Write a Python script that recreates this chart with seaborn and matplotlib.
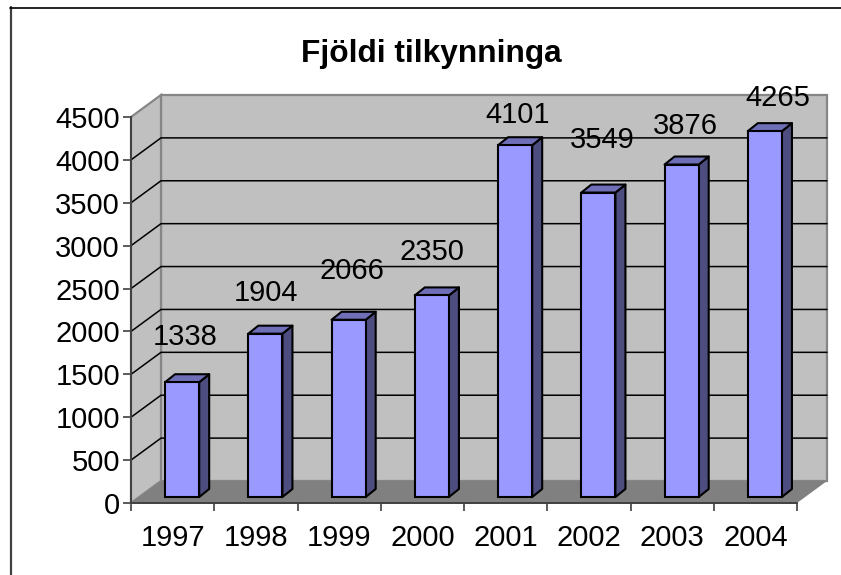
import matplotlib
matplotlib.use("Agg")
import matplotlib.pyplot as plt
from matplotlib.lines import Line2D
from matplotlib.patches import Polygon
import pandas as pd
import seaborn as sns

years = ["1997", "1998", "1999", "2000", "2001", "2002", "2003", "2004"]
counts = [1338, 1904, 2066, 2350, 4101, 3549, 3876, 4265]
y_ticks = [0, 500, 1000, 1500, 2000, 2500, 3000, 3500, 4000, 4500]
title = "Fjöldi tilkynninga"

# label offsets in pixels from the bar top, the originals sit unevenly
label_dx = [3, 1, 3, 0, 2, 4, 4, 13]
label_dy = [45, 41, 49, 43, 30, 53, 39, 33]

FRONT, SIDE, TOP = "#9999ff", "#4d4d80", "#6f6fb8"
WALL, FLOOR = "#c0c0c0", "#808080"
FONT_SIZE = 21

sns.set_theme(style="white")
plt.rcParams["font.family"] = ["Liberation Sans", "DejaVu Sans"]
plt.rcParams["text.color"] = "black"

df = pd.DataFrame({"year": years, "count": counts})

W, H = 841, 575
fig = plt.figure(figsize=(W / 100, H / 100), dpi=100)
ax = fig.add_axes([131 / W, (H - 503) / H, 666 / W, 386 / H])

sns.barplot(data=df, x="year", y="count", width=0.41, color=FRONT, saturation=1,
            edgecolor="black", linewidth=1.5, ax=ax, zorder=5)
ax.set_xlim(-0.5, 7.5)
ax.set_ylim(0, 4500)

# pixels to data units
px = 8 / 666
py = 4500 / 386
dx, dy = 30 * px, 22 * py      # depth of the walls
bdx, bdy = 10 * px, 8 * py     # depth of a bar
shift_x, shift_y = 9.5 * px, 6 * py

x0, x1 = -0.5, 7.5
ax.add_patch(Polygon([(x0 + dx, dy), (x1 + dx, dy), (x1 + dx, 4500 + dy), (x0 + dx, 4500 + dy)],
                     fc=WALL, ec="#868686", lw=1.6, clip_on=False, zorder=1))
ax.add_patch(Polygon([(x0, 0), (x0 + dx, dy), (x0 + dx, 4500 + dy), (x0, 4500)],
                     fc=WALL, ec="#868686", lw=1.6, clip_on=False, zorder=1))
ax.add_patch(Polygon([(x0, 0), (x1, 0), (x1 + dx, dy), (x0 + dx, dy)],
                     fc=FLOOR, ec="none", clip_on=False, zorder=1.5))

for t in y_ticks[1:-1]:
    ax.plot([x0, x0 + dx, x1 + dx], [t, t + dy, t + dy], color="black", lw=1.1,
            clip_on=False, zorder=2)

for i, bar in enumerate(ax.patches[:len(counts)]):
    bar.set_x(bar.get_x() + shift_x)
    bar.set_y(shift_y)
    bar.set_clip_on(False)
    l, r = bar.get_x(), bar.get_x() + bar.get_width()
    b, t = shift_y, shift_y + counts[i]
    ax.add_patch(Polygon([(r, b), (r + bdx, b + bdy), (r + bdx, t + bdy), (r, t)], fc=SIDE,
                         ec="black", lw=1.5, joinstyle="round", clip_on=False, zorder=4))
    ax.add_patch(Polygon([(l, t), (l + bdx, t + bdy), (r + bdx, t + bdy), (r, t)], fc=TOP,
                         ec="black", lw=1.5, joinstyle="round", clip_on=False, zorder=4))
    ax.text((l + r) / 2 + label_dx[i] * px, t + label_dy[i] * py, str(counts[i]), ha="center",
            va="center", fontsize=FONT_SIZE, color="black", zorder=7, clip_on=False)

sns.despine(ax=ax, top=True, right=True)
for side in ["left", "bottom"]:
    ax.spines[side].set_color("#404040")
    ax.spines[side].set_linewidth(1.4)
    ax.spines[side].set_zorder(3)
ax.set_xticks([i - 0.5 for i in range(9)], minor=True)
ax.set_xticks(range(8))
ax.set_xticklabels(years, fontsize=FONT_SIZE, color="black")
ax.set_yticks(y_ticks)
ax.set_yticklabels([str(t) for t in y_ticks], fontsize=FONT_SIZE, color="black")
ax.set_xlabel("")
ax.set_ylabel("")
ax.tick_params(axis="x", which="major", length=0, pad=15)
ax.tick_params(axis="x", which="minor", length=6, width=1.2, color="#404040", bottom=True)
ax.tick_params(axis="y", length=6, width=1.2, color="#404040", left=True, pad=2)

fig.text(431 / W, 1 - 54 / H, title, ha="center", va="center", fontsize=22.8, fontweight="bold",
         color="black")
# chart frame only shows on the top and left in the original
fig.add_artist(Line2D([10.5 / W, 10.5 / W], [0, 1 - 7 / H], color="#404040", lw=1.6,
                      transform=fig.transFigure))
fig.add_artist(Line2D([10 / W, 1], [1 - 7.5 / H, 1 - 7.5 / H], color="black", lw=1.2,
                      transform=fig.transFigure))

fig.savefig("out.png", dpi=100)
